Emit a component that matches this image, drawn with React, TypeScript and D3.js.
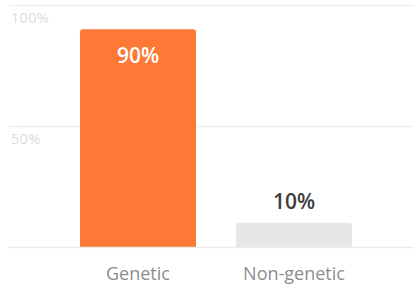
import { useEffect, useRef } from "react";
import * as d3 from "d3";

const categories = ["Genetic", "Non-genetic"];
const values = [90, 10];
const valueLabels = ["90%", "10%"];
const tickValues = [50, 100];
const tickLabels = ["50%", "100%"];

const W = 414;
const H = 285;

export default function App() {
  const ref = useRef<SVGSVGElement>(null);

  useEffect(() => {
    const svg = d3.select(ref.current);
    svg.selectAll("*").remove();

    const y = d3.scaleLinear().domain([0, 100]).range([247, 5]);
    const x = d3
      .scaleBand()
      .domain(categories)
      .range([58, 374])
      .paddingInner(40 / 156)
      .paddingOuter(0.141);

    const font = "'Open Sans', Lato, sans-serif";

    // gridlines + tick labels
    const grid = svg.append("g");
    grid
      .selectAll("line")
      .data(tickValues)
      .join("line")
      .attr("x1", 9)
      .attr("x2", W)
      .attr("y1", (d) => y(d) + 0.5)
      .attr("y2", (d) => y(d) + 0.5)
      .attr("stroke", "#f0f0f0")
      .attr("stroke-width", 1.5);
    grid
      .selectAll("text")
      .data(tickValues)
      .join("text")
      .attr("x", 11)
      .attr("y", (d) => y(d) + 18)
      .attr("font-family", font)
      .attr("font-size", 14.5)
      .attr("letter-spacing", 0.3)
      .attr("fill", "#dcdcdc")
      .text((_, i) => tickLabels[i]);

    // bars with rounded top corners
    const r = 3;
    svg
      .selectAll(".bar")
      .data(values)
      .join("path")
      .attr("class", "bar")
      .attr("d", (d, i) => {
        const x0 = x(categories[i]) ?? 0;
        const w = x.bandwidth();
        const y0 = y(d);
        const y1 = y(0);
        return `M${x0},${y1}V${y0 + r}Q${x0},${y0} ${x0 + r},${y0}H${x0 + w - r}Q${x0 + w},${y0} ${x0 + w},${y0 + r}V${y1}Z`;
      })
      .attr("fill", (_, i) => (i === 0 ? "#fd7935" : "#e6e7e9"));

    // baseline
    svg
      .append("line")
      .attr("x1", 9)
      .attr("x2", W)
      .attr("y1", y(0) + 0.5)
      .attr("y2", y(0) + 0.5)
      .attr("stroke", "#ececec")
      .attr("stroke-width", 1.5);

    // value labels
    svg
      .selectAll(".val")
      .data(values)
      .join("text")
      .attr("class", "val")
      .attr("x", (_, i) => (x(categories[i]) ?? 0) + x.bandwidth() / 2)
      .attr("y", (d, i) => (i === 0 ? y(d) + 34 : y(d) - 14))
      .attr("text-anchor", "middle")
      .attr("font-family", font)
      .attr("font-weight", 600)
      .attr("font-size", 21)
      .attr("fill", (_, i) => (i === 0 ? "#ffffff" : "#3d3d3d"))
      .text((_, i) => valueLabels[i]);

    // category labels
    svg
      .selectAll(".cat")
      .data(categories)
      .join("text")
      .attr("class", "cat")
      .attr("x", (d) => (x(d) ?? 0) + x.bandwidth() / 2)
      .attr("y", 280)
      .attr("text-anchor", "middle")
      .attr("font-family", font)
      .attr("font-size", 18)
      .attr("fill", "#8e8e8e")
      .text((d) => d);
  }, []);

  return (
    <svg
      ref={ref}
      width={W}
      height={H}
      style={{ position: "absolute", left: 0, top: 0 }}
    />
  );
}
